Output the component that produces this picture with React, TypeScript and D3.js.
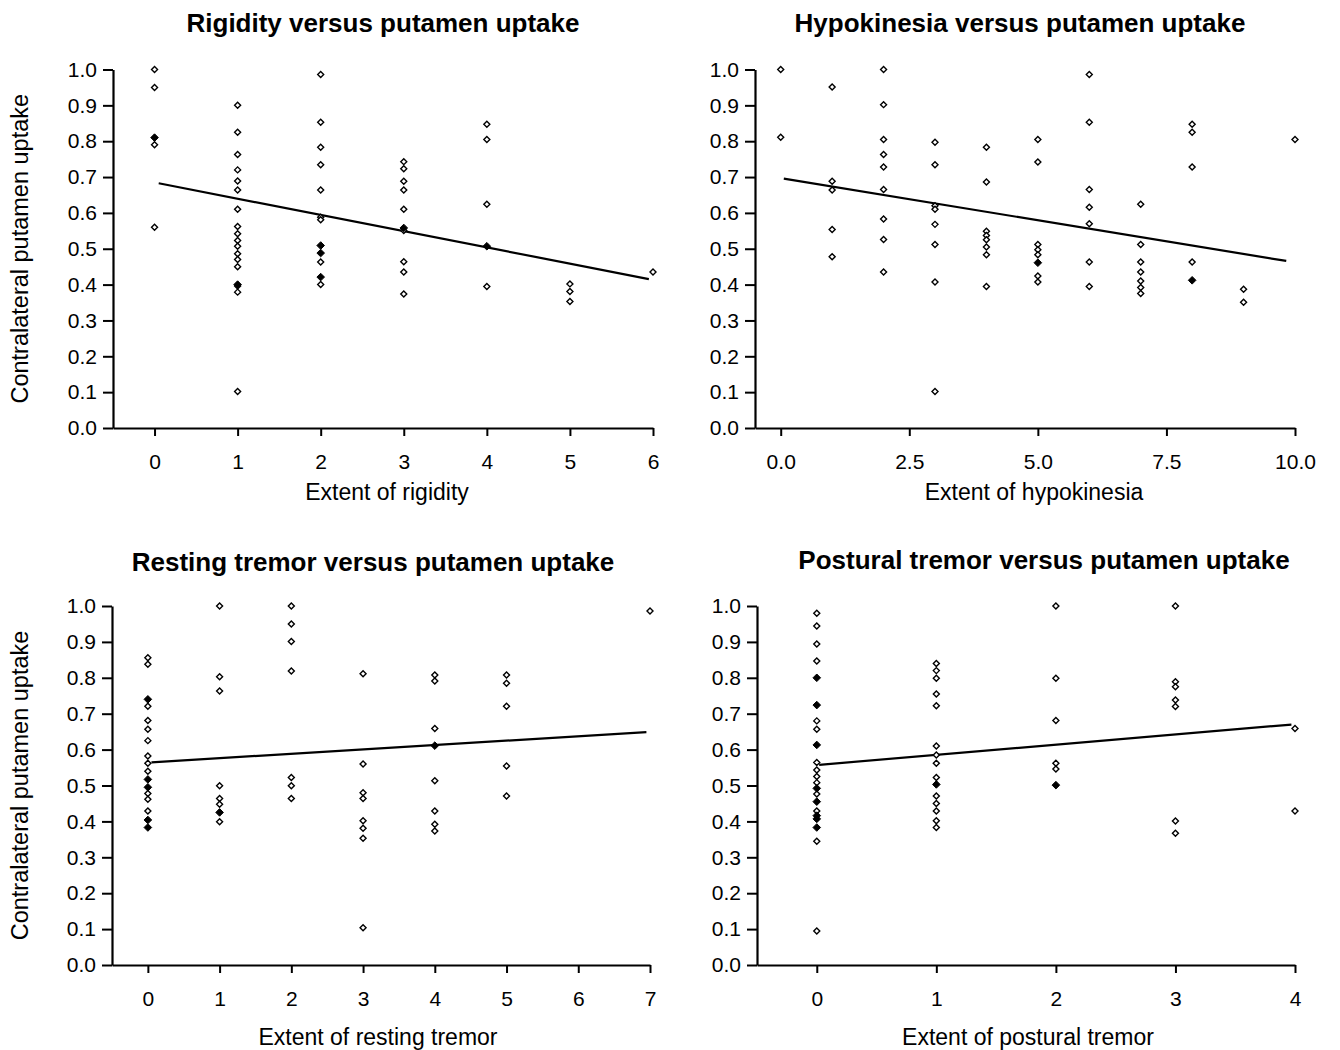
import * as d3 from 'd3'
import { useRef, useEffect } from 'react'

// values per integer column (x = index)
const rigidityOpen = [
  [1.0, 0.95, 0.79, 0.56],
  [0.9, 0.825, 0.763, 0.72, 0.689, 0.664, 0.61, 0.562, 0.542, 0.523, 0.507, 0.486, 0.47, 0.45, 0.396, 0.379, 0.102],
  [0.986, 0.853, 0.783, 0.734, 0.664, 0.588, 0.581, 0.463, 0.4],
  [0.743, 0.723, 0.688, 0.664, 0.61, 0.551, 0.464, 0.435, 0.374],
  [0.847, 0.805, 0.624, 0.395],
  [0.402, 0.381, 0.353],
  [0.435],
]
const rigidityFilled = [[0.81], [0.4], [0.509, 0.488, 0.421], [0.558], [0.507], [], []]
const rigidityFit = { intercept: 0.685, slope: -0.0453, from: 0.05, to: 5.95 }

const hypokinesiaOpen = [
  [1.0, 0.811],
  [0.951, 0.688, 0.664, 0.554, 0.478],
  [1.0, 0.902, 0.805, 0.763, 0.728, 0.665, 0.583, 0.526, 0.435],
  [0.797, 0.734, 0.62, 0.61, 0.568, 0.512, 0.407, 0.102],
  [0.783, 0.686, 0.549, 0.537, 0.525, 0.505, 0.483, 0.395],
  [0.805, 0.742, 0.512, 0.497, 0.483, 0.424, 0.407],
  [0.986, 0.853, 0.665, 0.616, 0.57, 0.463, 0.395],
  [0.624, 0.512, 0.463, 0.435, 0.41, 0.392, 0.375],
  [0.847, 0.825, 0.728, 0.463],
  [0.387, 0.351],
  [0.805],
]
const hypokinesiaFilled = [[], [], [], [], [], [0.461], [], [], [0.412], [], []]
const hypokinesiaFit = { intercept: 0.697, slope: -0.0235, from: 0.06, to: 9.83 }

const restingOpen = [
  [0.856, 0.838, 0.721, 0.681, 0.657, 0.625, 0.582, 0.562, 0.54, 0.478, 0.462, 0.429],
  [1.0, 0.803, 0.763, 0.499, 0.464, 0.448, 0.399],
  [1.0, 0.95, 0.901, 0.819, 0.522, 0.499, 0.464],
  [0.811, 0.56, 0.48, 0.464, 0.402, 0.381, 0.353, 0.104],
  [0.808, 0.791, 0.659, 0.513, 0.429, 0.392, 0.373],
  [0.808, 0.785, 0.721, 0.554, 0.471],
  [],
  [0.986],
]
const restingFilled = [[0.74, 0.517, 0.495, 0.404, 0.383], [0.425], [], [], [0.611], [], [], []]
const restingFit = { intercept: 0.564, slope: 0.0122, from: 0.05, to: 6.95 }

const posturalOpen = [
  [0.98, 0.944, 0.894, 0.847, 0.68, 0.657, 0.564, 0.543, 0.525, 0.508, 0.476, 0.429, 0.345, 0.095],
  [0.84, 0.82, 0.799, 0.755, 0.722, 0.61, 0.585, 0.562, 0.522, 0.471, 0.45, 0.429, 0.402, 0.383],
  [1.0, 0.799, 0.681, 0.562, 0.546],
  [1.0, 0.789, 0.775, 0.738, 0.72, 0.401, 0.367],
  [0.659, 0.429],
]
const posturalFilled = [[0.8, 0.724, 0.613, 0.492, 0.455, 0.416, 0.407, 0.383], [0.503], [0.501], [], []]
const posturalFit = { intercept: 0.557, slope: 0.0284, from: 0.02, to: 3.97 }

const yTicks = [0, 0.1, 0.2, 0.3, 0.4, 0.5, 0.6, 0.7, 0.8, 0.9, 1.0]
const rigidityTicks = [0, 1, 2, 3, 4, 5, 6]
const hypokinesiaTicks = [0, 2.5, 5, 7.5, 10]
const restingTicks = [0, 1, 2, 3, 4, 5, 6, 7]
const posturalTicks = [0, 1, 2, 3, 4]

const FONT = '"Liberation Sans", Arial, Helvetica, sans-serif'

const panels = [
  {
    title: 'Rigidity versus putamen uptake', xLabel: 'Extent of rigidity',
    open: rigidityOpen, filled: rigidityFilled, fit: rigidityFit,
    xDomain: [-0.5, 6], xRange: [113, 653], yRange: [428, 69.5],
    ticks: rigidityTicks, fmt: d3.format('d'), yLabel: true,
    titleX: 383, titleY: 32, xLabelX: 387, xLabelY: 500,
  },
  {
    title: 'Hypokinesia versus putamen uptake', xLabel: 'Extent of hypokinesia',
    open: hypokinesiaOpen, filled: hypokinesiaFilled, fit: hypokinesiaFit,
    xDomain: [-0.5, 10], xRange: [755, 1295], yRange: [428, 69.5],
    ticks: hypokinesiaTicks, fmt: d3.format('.1f'), yLabel: false,
    titleX: 1020, titleY: 32, xLabelX: 1034, xLabelY: 500,
  },
  {
    title: 'Resting tremor versus putamen uptake', xLabel: 'Extent of resting tremor',
    open: restingOpen, filled: restingFilled, fit: restingFit,
    xDomain: [-0.5, 7], xRange: [112, 650], yRange: [965, 606],
    ticks: restingTicks, fmt: d3.format('d'), yLabel: true,
    titleX: 373, titleY: 571, xLabelX: 378, xLabelY: 1045,
  },
  {
    title: 'Postural tremor versus putamen uptake', xLabel: 'Extent of postural tremor',
    open: posturalOpen, filled: posturalFilled, fit: posturalFit,
    xDomain: [-0.5, 4], xRange: [757, 1295], yRange: [965, 606],
    ticks: posturalTicks, fmt: d3.format('d'), yLabel: false,
    titleX: 1044, titleY: 569, xLabelX: 1028, xLabelY: 1045,
  },
]

const diamond = (r: number) => `M0,${-r}L${r},0L0,${r}L${-r},0Z`

function Panel({ p }: { p: any }) {
  const gx = useRef<SVGGElement>(null)
  const gy = useRef<SVGGElement>(null)

  const x = d3.scaleLinear().domain(p.xDomain).range(p.xRange)
  const y = d3.scaleLinear().domain([0, 1]).range(p.yRange)

  useEffect(() => {
    const xa = d3.axisBottom(x).tickValues(p.ticks).tickFormat(p.fmt)
      .tickSize(8).tickSizeOuter(0).tickPadding(18)
    const ya = d3.axisLeft(y).tickValues(yTicks).tickFormat(d3.format('.1f'))
      .tickSize(10).tickSizeOuter(0).tickPadding(6)

    const sx = d3.select(gx.current!).call(xa as any)
    const sy = d3.select(gy.current!).call(ya as any)
    for (const s of [sx, sy]) {
      s.select('.domain').attr('stroke-width', 2.2)
      s.selectAll('.tick line').attr('stroke-width', 2)
      s.selectAll('.tick text').attr('font-size', 21).attr('font-family', FONT).attr('fill', '#000')
      s.attr('font-family', FONT)
    }
  }, [])

  const fitLine = d3.line<number>()
    .x(d => x(d))
    .y(d => y(p.fit.intercept + p.fit.slope * d))

  const openPts: [number, number][] = []
  p.open.forEach((col: number[], i: number) => col.forEach(v => openPts.push([i, v])))
  const filledPts: [number, number][] = []
  p.filled.forEach((col: number[], i: number) => col.forEach(v => filledPts.push([i, v])))

  const midY = (p.yRange[0] + p.yRange[1]) / 2

  return (
    <g>
      <text x={p.titleX} y={p.titleY} textAnchor="middle" fontFamily={FONT}
        fontWeight="bold" fontSize={26}>{p.title}</text>
      <g ref={gx} transform={`translate(0,${p.yRange[0]})`} />
      <g ref={gy} transform={`translate(${p.xRange[0]},0)`} />
      <path d={fitLine([p.fit.from, p.fit.to]) || ''} fill="none" stroke="#000" strokeWidth={2.2} />
      {openPts.map((d, i) => (
        <path key={'o' + i} d={diamond(3)} transform={`translate(${x(d[0])},${y(d[1])})`}
          fill="#fff" stroke="#000" strokeWidth={1.4} />
      ))}
      {filledPts.map((d, i) => (
        <path key={'f' + i} d={diamond(3.8)} transform={`translate(${x(d[0])},${y(d[1])})`}
          fill="#000" stroke="#000" strokeWidth={1} />
      ))}
      <text x={p.xLabelX} y={p.xLabelY} textAnchor="middle" fontFamily={FONT} fontSize={23}>{p.xLabel}</text>
      {p.yLabel && (
        <text transform={`translate(28,${midY}) rotate(-90)`} textAnchor="middle"
          fontFamily={FONT} fontSize={23.5}>Contralateral putamen uptake</text>
      )}
    </g>
  )
}

export default function App() {
  return (
    <svg width={1340} height={1050} viewBox="0 0 1340 1050"
      style={{ position: 'absolute', left: 0, top: 0, display: 'block', background: '#fff' }}>
      {panels.map((p, i) => <Panel key={i} p={p} />)}
    </svg>
  )
}
